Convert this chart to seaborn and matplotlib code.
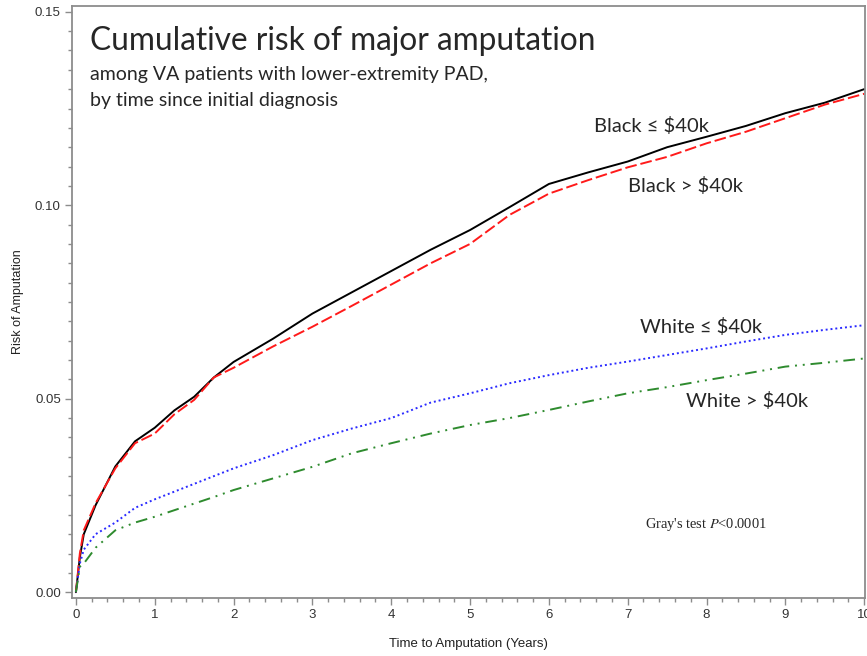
import pandas as pd
import seaborn as sns
import matplotlib.pyplot as plt
from matplotlib.ticker import MultipleLocator

# time since initial diagnosis (years)
years = [0, 0.05, 0.1, 0.25, 0.5, 0.75, 1, 1.25, 1.5, 1.75, 2, 2.5, 3, 3.5,
         4, 4.5, 5, 5.5, 6, 6.5, 7, 7.5, 8, 8.5, 9, 9.5, 10]

black_low = [0, 0.009, 0.015, 0.0225, 0.0325, 0.039, 0.0425, 0.047, 0.0505, 0.0555,
             0.0595, 0.0655, 0.072, 0.0775, 0.083, 0.0885, 0.0936, 0.0995, 0.1055,
             0.1085, 0.1113, 0.115, 0.1177, 0.1205, 0.1238, 0.1265, 0.130]
black_high = [0, 0.010, 0.016, 0.023, 0.032, 0.0385, 0.041, 0.046, 0.0497, 0.0555,
              0.058, 0.0635, 0.0686, 0.074, 0.0795, 0.085, 0.090, 0.0975, 0.103,
              0.1065, 0.1098, 0.1125, 0.116, 0.119, 0.1225, 0.126, 0.1288]
white_low = [0, 0.0074, 0.011, 0.015, 0.018, 0.0218, 0.024, 0.026, 0.028, 0.030,
             0.032, 0.0354, 0.0393, 0.0423, 0.045, 0.049, 0.0514, 0.054, 0.0561,
             0.058, 0.0596, 0.0613, 0.063, 0.0648, 0.0665, 0.0678, 0.069]
white_high = [0, 0.0066, 0.0074, 0.0115, 0.016, 0.018, 0.0195, 0.0212, 0.0229, 0.0246,
              0.0264, 0.0294, 0.0324, 0.0359, 0.0385, 0.041, 0.0432, 0.045, 0.0471,
              0.0493, 0.0514, 0.053, 0.0548, 0.0565, 0.0583, 0.0593, 0.0604]

groups = ["Black ≤ $40k", "Black > $40k", "White ≤ $40k", "White > $40k"]
series = [black_low, black_high, white_low, white_high]

rows = []
for g, vals in zip(groups, series):
    for t, v in zip(years, vals):
        rows.append({"time": t, "risk": v, "group": g})
df = pd.DataFrame(rows)

sns.set_style("ticks")
plt.rcParams["font.family"] = ["Liberation Sans Narrow", "Liberation Sans", "DejaVu Sans"]
plt.rcParams["mathtext.fontset"] = "stix"

fig = plt.figure(figsize=(8.67, 6.56), dpi=100)
ax = fig.add_axes([0.083, 0.0884, 0.9147, 0.9025])

palette = {groups[0]: "black", groups[1]: "#ff1a1a", groups[2]: "#2a2aff", groups[3]: "#2e8b2e"}
dashes = {groups[0]: "", groups[1]: (6, 2), groups[2]: (1, 1.5),
          groups[3]: (6, 3, 1, 3, 1, 3)}
sns.lineplot(data=df, x="time", y="risk", hue="group", style="group",
             palette=palette, dashes=dashes, estimator=None, legend=False,
             linewidth=1.4, ax=ax)

ax.set_xlim(-0.05, 10.01)
ax.set_ylim(-0.0015, 0.1515)
ax.set_xticks(range(0, 11))
ax.set_yticks([0, 0.05, 0.10, 0.15])
ax.set_yticklabels(["0.00", "0.05", "0.10", "0.15"])
ax.xaxis.set_minor_locator(MultipleLocator(0.2))
ax.yaxis.set_minor_locator(MultipleLocator(0.005))
ax.tick_params(which="major", length=5, width=1, color="#8c8c8c", labelsize=9.5,
               labelcolor="#333333", pad=3)
ax.tick_params(which="minor", length=3, width=1, color="#8c8c8c")
for s in ax.spines.values():
    s.set_color("#8c8c8c")
    s.set_linewidth(1.3)

ax.set_xlabel("Time to Amputation (Years)", fontsize=9.5, color="#222222", labelpad=12)
ax.set_ylabel("Risk of Amputation", fontsize=9, color="#222222", labelpad=8)

# title block
fig.text(0.104, 0.938, "Cumulative risk of major amputation", fontsize=22.8,
         family="Lato", ha="left", va="center")
fig.text(0.104, 0.887, "among VA patients with lower-extremity PAD,", fontsize=14,
         family="Lato", ha="left", va="center")
fig.text(0.104, 0.847, "by time since initial diagnosis", fontsize=14,
         family="Lato", ha="left", va="center")

# curve labels
lab = dict(fontsize=14.5, family=["Lato", "DejaVu Sans"], va="center", ha="left")
ax.text(6.57, 0.1205, groups[0], **lab)
ax.text(7.0, 0.1050, groups[1], **lab)
ax.text(7.16, 0.0685, groups[2], **lab)
ax.text(7.74, 0.0495, groups[3], **lab)

ax.text(7.22, 0.0175, "Gray's test $\\it{P}$<0.0001", fontsize=10.4,
        family="Liberation Serif", va="center", ha="left")

plt.savefig("out.png", dpi=100)
plt.close()
